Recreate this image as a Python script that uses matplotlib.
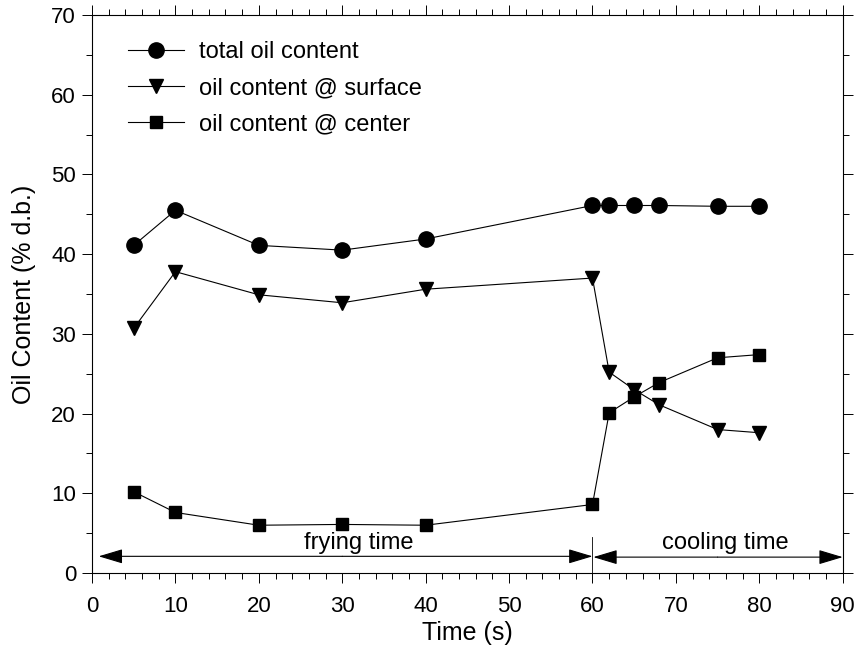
import matplotlib.pyplot as plt
from matplotlib.ticker import MultipleLocator

plt.rcParams['font.family'] = ['Liberation Sans', 'DejaVu Sans']

# oil content during frying and cooling
time_total = [5, 10, 20, 30, 40, 60, 62, 65, 68, 75, 80]
total_oil = [41.1, 45.5, 41.1, 40.5, 41.9, 46.1, 46.1, 46.1, 46.1, 46.0, 46.0]

time_surf = [5, 10, 20, 30, 40, 60, 62, 65, 68, 75, 80]
surface_oil = [30.7, 37.8, 34.9, 33.9, 35.6, 37.0, 25.2, 23.0, 21.1, 18.0, 17.6]

time_center = [5, 10, 20, 30, 40, 60, 62, 65, 68, 75, 80]
center_oil = [10.2, 7.6, 6.0, 6.1, 6.0, 8.6, 20.1, 22.1, 23.9, 27.0, 27.4]

labels = ["total oil content", "oil content @ surface", "oil content @ center"]

fig = plt.figure(figsize=(8.56, 6.49), dpi=100)
ax = fig.add_axes([0.1075, 0.117, 0.877, 0.860])

ax.plot(time_total, total_oil, '-o', color='black', lw=0.8, ms=11, label=labels[0])
ax.plot(time_surf, surface_oil, '-v', color='black', lw=0.8, ms=9.5, label=labels[1])
ax.plot(time_center, center_oil, '-s', color='black', lw=0.8, ms=8, label=labels[2])

# frying / cooling arrows
head = '-|>,head_length=0.5,head_width=0.15'
for tip, tail, yy in [(0.8, 30, 2.1), (60, 30, 2.1), (60.1, 75, 2.0), (90, 75, 2.0)]:
    ax.annotate('', xy=(tip, yy), xytext=(tail, yy),
                arrowprops=dict(arrowstyle=head, color='black', lw=0.8,
                                mutation_scale=30, shrinkA=0, shrinkB=0))
ax.plot([60, 60], [0, 4.5], color='black', lw=0.6)
ax.text(32.0, 3.0, "frying time", ha='center', va='baseline', fontsize=17)
ax.text(75.9, 3.0, "cooling time", ha='center', va='baseline', fontsize=17)

ax.set_xlim(0, 90)
ax.set_ylim(0, 70)
ax.xaxis.set_major_locator(MultipleLocator(10))
ax.xaxis.set_minor_locator(MultipleLocator(2))
ax.yaxis.set_major_locator(MultipleLocator(10))
ax.yaxis.set_minor_locator(MultipleLocator(5))
ax.tick_params(which='both', direction='out', top=True, right=True, width=0.7)
ax.tick_params(which='major', length=7.5)
ax.tick_params(which='minor', length=4)
ax.tick_params(axis='x', labelsize=16, pad=9)
ax.tick_params(axis='y', labelsize=16, pad=4)
for s in ax.spines.values():
    s.set_linewidth(0.8)

ax.set_xlabel("Time (s)", fontsize=18, labelpad=3)
ax.set_ylabel("Oil Content (% d.b.)", fontsize=18, labelpad=11)

ax.legend(loc='upper left', frameon=False, fontsize=17, handlelength=2.4,
          handletextpad=0.6, labelspacing=0.6, borderaxespad=0,
          bbox_to_anchor=(0.035, 0.97))

fig.savefig("out.png")
